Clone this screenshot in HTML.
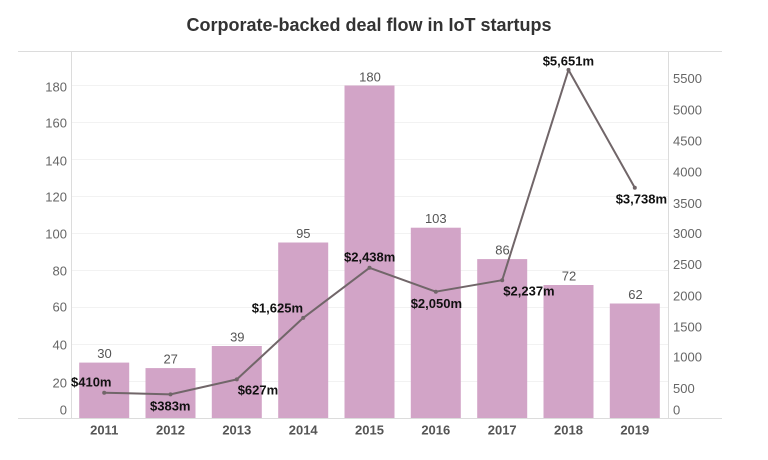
<!DOCTYPE html>
<html><head><meta charset="utf-8"><style>
html,body{margin:0;padding:0;background:#fff;}
svg{display:block;font-family:"Liberation Sans",Arial,sans-serif;}
</style></head><body>
<svg width="768" height="460" viewBox="0 0 768 460" xmlns="http://www.w3.org/2000/svg">
<text x="369" y="31" text-anchor="middle" font-size="18" font-weight="bold" fill="#333">Corporate-backed deal flow in IoT startups</text>
<!-- gridlines -->
<g stroke="#f2f2f2" stroke-width="1">
<line x1="71" x2="668" y1="85.5" y2="85.5"/>
<line x1="71" x2="668" y1="122.5" y2="122.5"/>
<line x1="71" x2="668" y1="159.5" y2="159.5"/>
<line x1="71" x2="668" y1="196.5" y2="196.5"/>
<line x1="71" x2="668" y1="233.5" y2="233.5"/>
<line x1="71" x2="668" y1="270.5" y2="270.5"/>
<line x1="71" x2="668" y1="307.5" y2="307.5"/>
<line x1="71" x2="668" y1="344.5" y2="344.5"/>
<line x1="71" x2="668" y1="381.5" y2="381.5"/>
</g>
<g stroke="#dcdcdc" stroke-width="1">
<line x1="18" x2="722" y1="51.5" y2="51.5"/>
<line x1="18" x2="722" y1="418.5" y2="418.5"/>
<line x1="71.5" x2="71.5" y1="51" y2="418"/>
<line x1="668.5" x2="668.5" y1="51" y2="418"/>
</g>
<!-- bars -->
<g fill="#d2a4c7">
<rect x="79.2" y="362.6" width="50" height="55.4"/>
<rect x="145.5" y="368.1" width="50" height="49.9"/>
<rect x="211.8" y="346.0" width="50" height="72.0"/>
<rect x="278.2" y="242.5" width="50" height="175.5"/>
<rect x="344.5" y="85.5" width="50" height="332.5"/>
<rect x="410.8" y="227.7" width="50" height="190.3"/>
<rect x="477.2" y="259.1" width="50" height="158.9"/>
<rect x="543.5" y="285.0" width="50" height="133.0"/>
<rect x="609.8" y="303.5" width="50" height="114.5"/>
</g>
<!-- bar labels -->
<g font-size="13" fill="#555" text-anchor="middle">
<text x="104.5" y="358">30</text>
<text x="170.7" y="363.7">27</text>
<text x="237.3" y="341.4">39</text>
<text x="303.3" y="238">95</text>
<text x="370" y="81.4">180</text>
<text x="435.8" y="223">103</text>
<text x="502.5" y="254.7">86</text>
<text x="569" y="280.7">72</text>
<text x="635.5" y="299">62</text>
</g>
<!-- year labels -->
<g font-size="13" font-weight="bold" fill="#555" text-anchor="middle">
<text x="104.2" y="434.7">2011</text>
<text x="170.5" y="434.7">2012</text>
<text x="236.8" y="434.7">2013</text>
<text x="303.2" y="434.7">2014</text>
<text x="369.5" y="434.7">2015</text>
<text x="435.8" y="434.7">2016</text>
<text x="502.2" y="434.7">2017</text>
<text x="568.5" y="434.7">2018</text>
<text x="634.8" y="434.7">2019</text>
</g>
<!-- left axis -->
<g font-size="13" fill="#666" text-anchor="end">
<text x="67" y="91.4">180</text>
<text x="67" y="127.7">160</text>
<text x="67" y="165.4">140</text>
<text x="67" y="201.7">120</text>
<text x="67" y="238.7">100</text>
<text x="67" y="275.4">80</text>
<text x="67" y="311.4">60</text>
<text x="67" y="349.7">40</text>
<text x="67" y="387.4">20</text>
<text x="67" y="414.7">0</text>
</g>
<!-- right axis -->
<g font-size="13" fill="#666" text-anchor="start">
<text x="673" y="83">5500</text>
<text x="673" y="114.7">5000</text>
<text x="673" y="145.4">4500</text>
<text x="673" y="176.4">4000</text>
<text x="673" y="208">3500</text>
<text x="673" y="238">3000</text>
<text x="673" y="269">2500</text>
<text x="673" y="300.4">2000</text>
<text x="673" y="331.4">1500</text>
<text x="673" y="361.4">1000</text>
<text x="673" y="393">500</text>
<text x="673" y="414.7">0</text>
</g>
<!-- line -->
<polyline fill="none" stroke="#716669" stroke-width="2" stroke-linejoin="round" points="104.2,392.7 170.5,394.4 236.8,379.4 303.2,317.9 369.5,267.8 435.8,291.7 502.2,280.2 568.5,69.9 634.8,187.7"/>
<g fill="#716669">
<circle cx="104.2" cy="392.7" r="2"/><circle cx="170.5" cy="394.4" r="2"/><circle cx="236.8" cy="379.4" r="2"/>
<circle cx="303.2" cy="317.9" r="2"/><circle cx="369.5" cy="267.8" r="2"/><circle cx="435.8" cy="291.7" r="2"/>
<circle cx="502.2" cy="280.2" r="2"/><circle cx="568.5" cy="69.9" r="2"/><circle cx="634.8" cy="187.7" r="2"/>
</g>
<!-- line labels -->
<g font-size="13" font-weight="bold" fill="#111">
<text x="71" y="386.4">$410m</text>
<text x="150" y="410.4">$383m</text>
<text x="237.7" y="394.7">$627m</text>
<text x="251.7" y="312.4">$1,625m</text>
<text x="344" y="261.4">$2,438m</text>
<text x="410.7" y="308">$2,050m</text>
<text x="503.3" y="295.4">$2,237m</text>
<text x="542.7" y="65.4">$5,651m</text>
<text x="615.7" y="203.7">$3,738m</text>
</g>
</svg>
</body></html>
